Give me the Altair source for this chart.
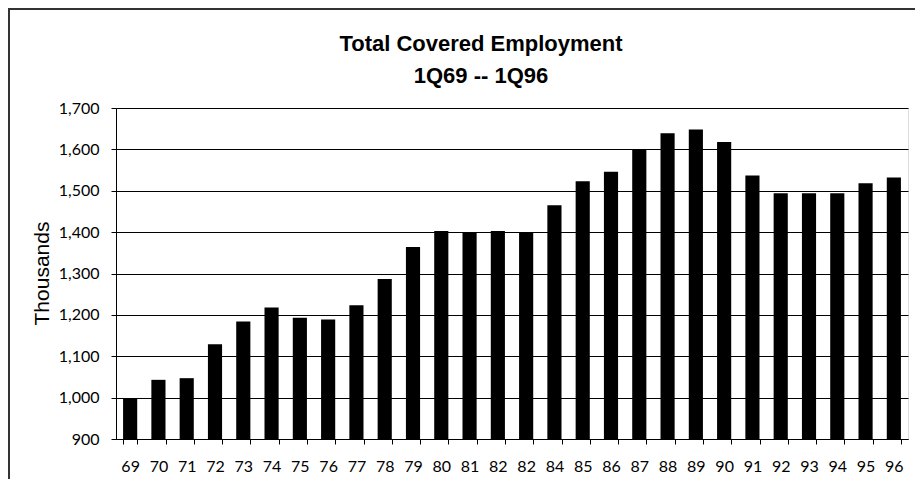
import altair as alt
import pandas as pd

labels = ["69", "70", "71", "72", "73", "74", "75", "76", "77", "78", "79", "80",
          "81", "82", "82", "84", "85", "86", "87", "88", "89", "90", "91", "92",
          "93", "94", "95", "96"]
values = [998, 1043, 1047, 1129, 1184, 1218, 1193, 1189, 1223, 1287, 1364, 1403,
          1399, 1403, 1399, 1465, 1523, 1546, 1601, 1639, 1648, 1618, 1537, 1494,
          1494, 1494, 1518, 1532]
y_ticks = [900, 1000, 1100, 1200, 1300, 1400, 1500, 1600, 1700]

df = pd.DataFrame({"idx": list(range(len(labels))), "label": labels, "value": values})
label_expr = "[" + ",".join("'%s'" % l for l in labels) + "][datum.value]"

TICKFONT = "Lato"
SANS = "Liberation Sans, Arial, sans-serif"

bars = alt.Chart(df).mark_bar(color="black", clip=True).encode(
    x=alt.X("idx:O", title=None,
            scale=alt.Scale(paddingInner=0.5, paddingOuter=0.25),
            axis=alt.Axis(labelExpr=label_expr, labelAngle=0, tickBand="extent",
                          tickSize=5, labelPadding=14, labelFont=TICKFONT,
                          labelFontSize=16, labelColor="black", domainColor="black",
                          tickColor="black", grid=False)),
    y=alt.Y("value:Q", title="Thousands",
            scale=alt.Scale(domain=[900, 1700], zero=False, nice=False),
            axis=alt.Axis(values=y_ticks, format=",d", labelFont=TICKFONT,
                          labelFontSize=16, labelColor="black", labelPadding=12,
                          tickSize=5, tickColor="black", domainColor="black",
                          grid=True, gridColor="black", gridWidth=1,
                          titleFont=SANS, titleFontSize=21, titleFontWeight="normal",
                          titleColor="black", titleX=-64, titleY=165)),
    y2=alt.datum(900),
)

one = pd.DataFrame({"a": [0]})
frame_left = alt.Chart(one).mark_rule(color="#333333", strokeWidth=2).encode(
    x=alt.value(-107), y=alt.value(-99), y2=alt.value(371))
frame_top = alt.Chart(one).mark_rule(color="#333333", strokeWidth=2).encode(
    x=alt.value(-108), x2=alt.value(800), y=alt.value(-99))

chart = alt.layer(bars, frame_left, frame_top).properties(
    width=792, height=331,
    title=alt.TitleParams(text=["Total Covered Employment", "1Q69 -- 1Q96"],
                          font=SANS, fontSize=22, fontWeight="bold", lineHeight=32,
                          anchor="middle", dx=-31, dy=80, color="black", offset=0),
    autosize=alt.AutoSizeParams(type="none"),
    padding={"left": 108, "top": 100, "right": 7, "bottom": 40},
).configure_view(stroke="black", strokeWidth=1).configure(background="white")

chart.save("out.html", embed_options={"renderer": "svg", "actions": False})
